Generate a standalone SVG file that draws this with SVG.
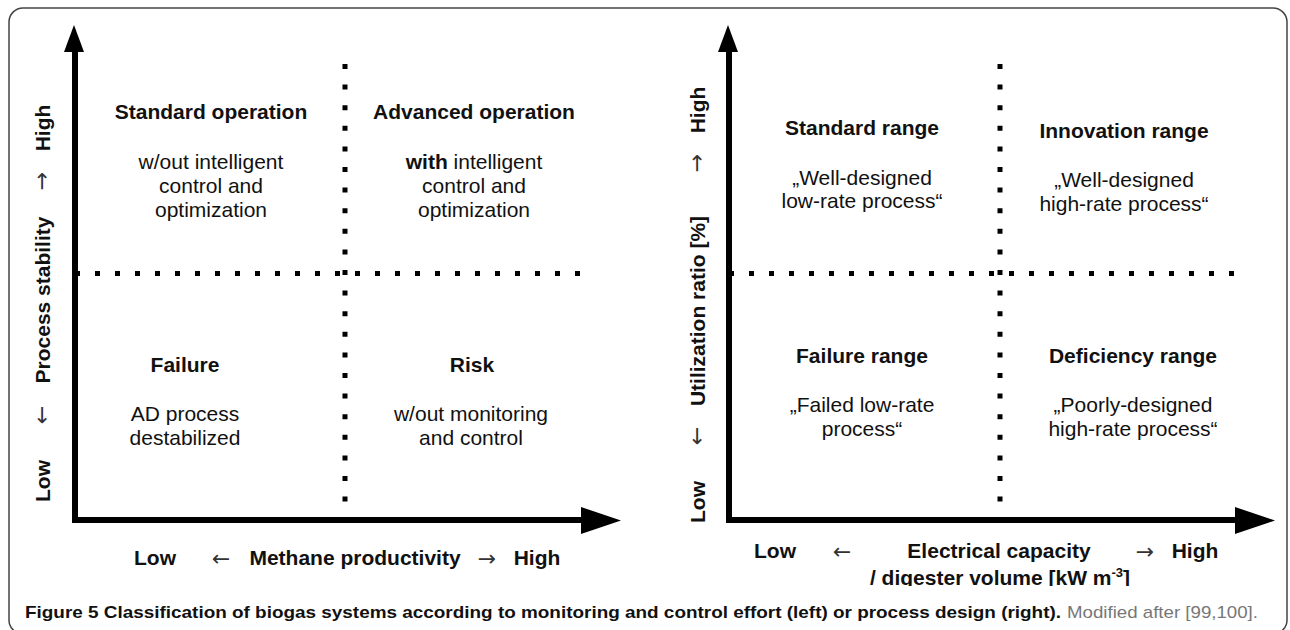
<svg xmlns="http://www.w3.org/2000/svg" width="1290" height="630" viewBox="0 0 1290 630">
<defs>
<style>
.t{font-family:"Liberation Sans",Arial,sans-serif;font-size:21px;fill:#111;text-anchor:middle}
.b{font-weight:bold}
.arr{font-family:"DejaVu Sans",sans-serif;font-weight:normal;font-size:22px;fill:#333}
.axis{stroke:#000;stroke-width:6;fill:none}
.hd{fill:#000}
.dv{stroke:#000;stroke-width:5;fill:none;stroke-dasharray:5 15.6}
.dh{stroke:#000;stroke-width:5;fill:none;stroke-dasharray:5 15}
.cap{font-family:"Liberation Sans",Arial,sans-serif;font-size:17px}
</style>
<clipPath id="clip2"><rect x="850" y="560" width="300" height="26"/></clipPath>
</defs>
<rect id="frame" x="9" y="8" width="1278" height="626" rx="14" fill="#fff" stroke="#444" stroke-width="1.5"/>

<g id="connectors">
  <!-- left chart axes -->
  <line class="axis" x1="75" y1="523" x2="75" y2="50"/>
  <polygon class="hd" points="64,52 84,52 74,25"/>
  <line class="axis" x1="72" y1="520" x2="584" y2="520"/>
  <polygon class="hd" points="581,507 581,534 621,520.5"/>
  <line class="dv" x1="345" y1="64" x2="345" y2="522"/>
  <line class="dh" x1="75" y1="273.5" x2="582" y2="273.5"/>
  <!-- right chart axes -->
  <line class="axis" x1="729" y1="523" x2="729" y2="50"/>
  <polygon class="hd" points="718,52 738,52 728,25"/>
  <line class="axis" x1="726" y1="520" x2="1238" y2="520"/>
  <polygon class="hd" points="1235,507 1235,534 1275,520.5"/>
  <line class="dv" x1="1000" y1="64" x2="1000" y2="522"/>
  <line class="dh" x1="729" y1="273.5" x2="1236" y2="273.5"/>
</g>

<g id="left-y-label">
  <text class="t b" transform="translate(50,128) rotate(-90)">High</text>
  <text class="t arr" transform="translate(49,181) rotate(-90)">→</text>
  <text class="t b" transform="translate(50,300) rotate(-90)">Process stability</text>
  <text class="t arr" transform="translate(49,415) rotate(-90)">←</text>
  <text class="t b" transform="translate(50,481) rotate(-90)">Low</text>
</g>
<g id="left-x-label">
  <text class="t b" x="155" y="565">Low</text>
  <text class="t arr" x="221" y="566">←</text>
  <text class="t b" x="355" y="565">Methane productivity</text>
  <text class="t arr" x="487" y="566">→</text>
  <text class="t b" x="537" y="565">High</text>
</g>
<g id="standard-operation">
  <text class="t b" x="211" y="119">Standard operation</text>
  <text class="t" x="211" y="169">w/out intelligent</text>
  <text class="t" x="211" y="193">control and</text>
  <text class="t" x="211" y="217">optimization</text>
</g>
<g id="advanced-operation">
  <text class="t b" x="474" y="119">Advanced operation</text>
  <text class="t" x="474" y="169"><tspan font-weight="bold">with</tspan> intelligent</text>
  <text class="t" x="474" y="193">control and</text>
  <text class="t" x="474" y="217">optimization</text>
</g>
<g id="failure">
  <text class="t b" x="185" y="372">Failure</text>
  <text class="t" x="185" y="421">AD process</text>
  <text class="t" x="185" y="445">destabilized</text>
</g>
<g id="risk">
  <text class="t b" x="472" y="372">Risk</text>
  <text class="t" x="471" y="421">w/out monitoring</text>
  <text class="t" x="471" y="445">and control</text>
</g>

<g id="right-y-label">
  <text class="t b" transform="translate(705,110) rotate(-90)">High</text>
  <text class="t arr" transform="translate(704,163) rotate(-90)">→</text>
  <text class="t b" transform="translate(705,311) rotate(-90)">Utilization ratio [%]</text>
  <text class="t arr" transform="translate(704,436) rotate(-90)">←</text>
  <text class="t b" transform="translate(705,502) rotate(-90)">Low</text>
</g>
<g id="right-x-label">
  <text class="t b" x="775" y="558">Low</text>
  <text class="t arr" x="842" y="559">←</text>
  <text class="t b" x="999" y="558">Electrical capacity</text>
  <text class="t arr" x="1145" y="559">→</text>
  <text class="t b" x="1195" y="558">High</text>
  <text class="t b" x="1000" y="585" clip-path="url(#clip2)">/ digester volume [kW m<tspan font-size="13" dy="-8">-3</tspan><tspan dy="8">]</tspan></text>
</g>
<g id="standard-range">
  <text class="t b" x="862" y="135">Standard range</text>
  <text class="t" x="862" y="185">„Well-designed</text>
  <text class="t" x="862" y="208">low-rate process“</text>
</g>
<g id="innovation-range">
  <text class="t b" x="1124" y="138">Innovation range</text>
  <text class="t" x="1124" y="187">„Well-designed</text>
  <text class="t" x="1124" y="211">high-rate process“</text>
</g>
<g id="failure-range">
  <text class="t b" x="862" y="363">Failure range</text>
  <text class="t" x="862" y="412">„Failed low-rate</text>
  <text class="t" x="862" y="436">process“</text>
</g>
<g id="deficiency-range">
  <text class="t b" x="1133" y="363">Deficiency range</text>
  <text class="t" x="1133" y="412">„Poorly-designed</text>
  <text class="t" x="1133" y="436">high-rate process“</text>
</g>

<g id="caption">
  <text class="cap" x="25" y="618" font-weight="bold" fill="#111" textLength="1036" lengthAdjust="spacingAndGlyphs">Figure 5 Classification of biogas systems according to monitoring and control effort (left) or process design (right).</text>
  <text class="cap" x="1067" y="618" fill="#777" textLength="191" lengthAdjust="spacingAndGlyphs">Modified after [99,100].</text>
</g>
</svg>
